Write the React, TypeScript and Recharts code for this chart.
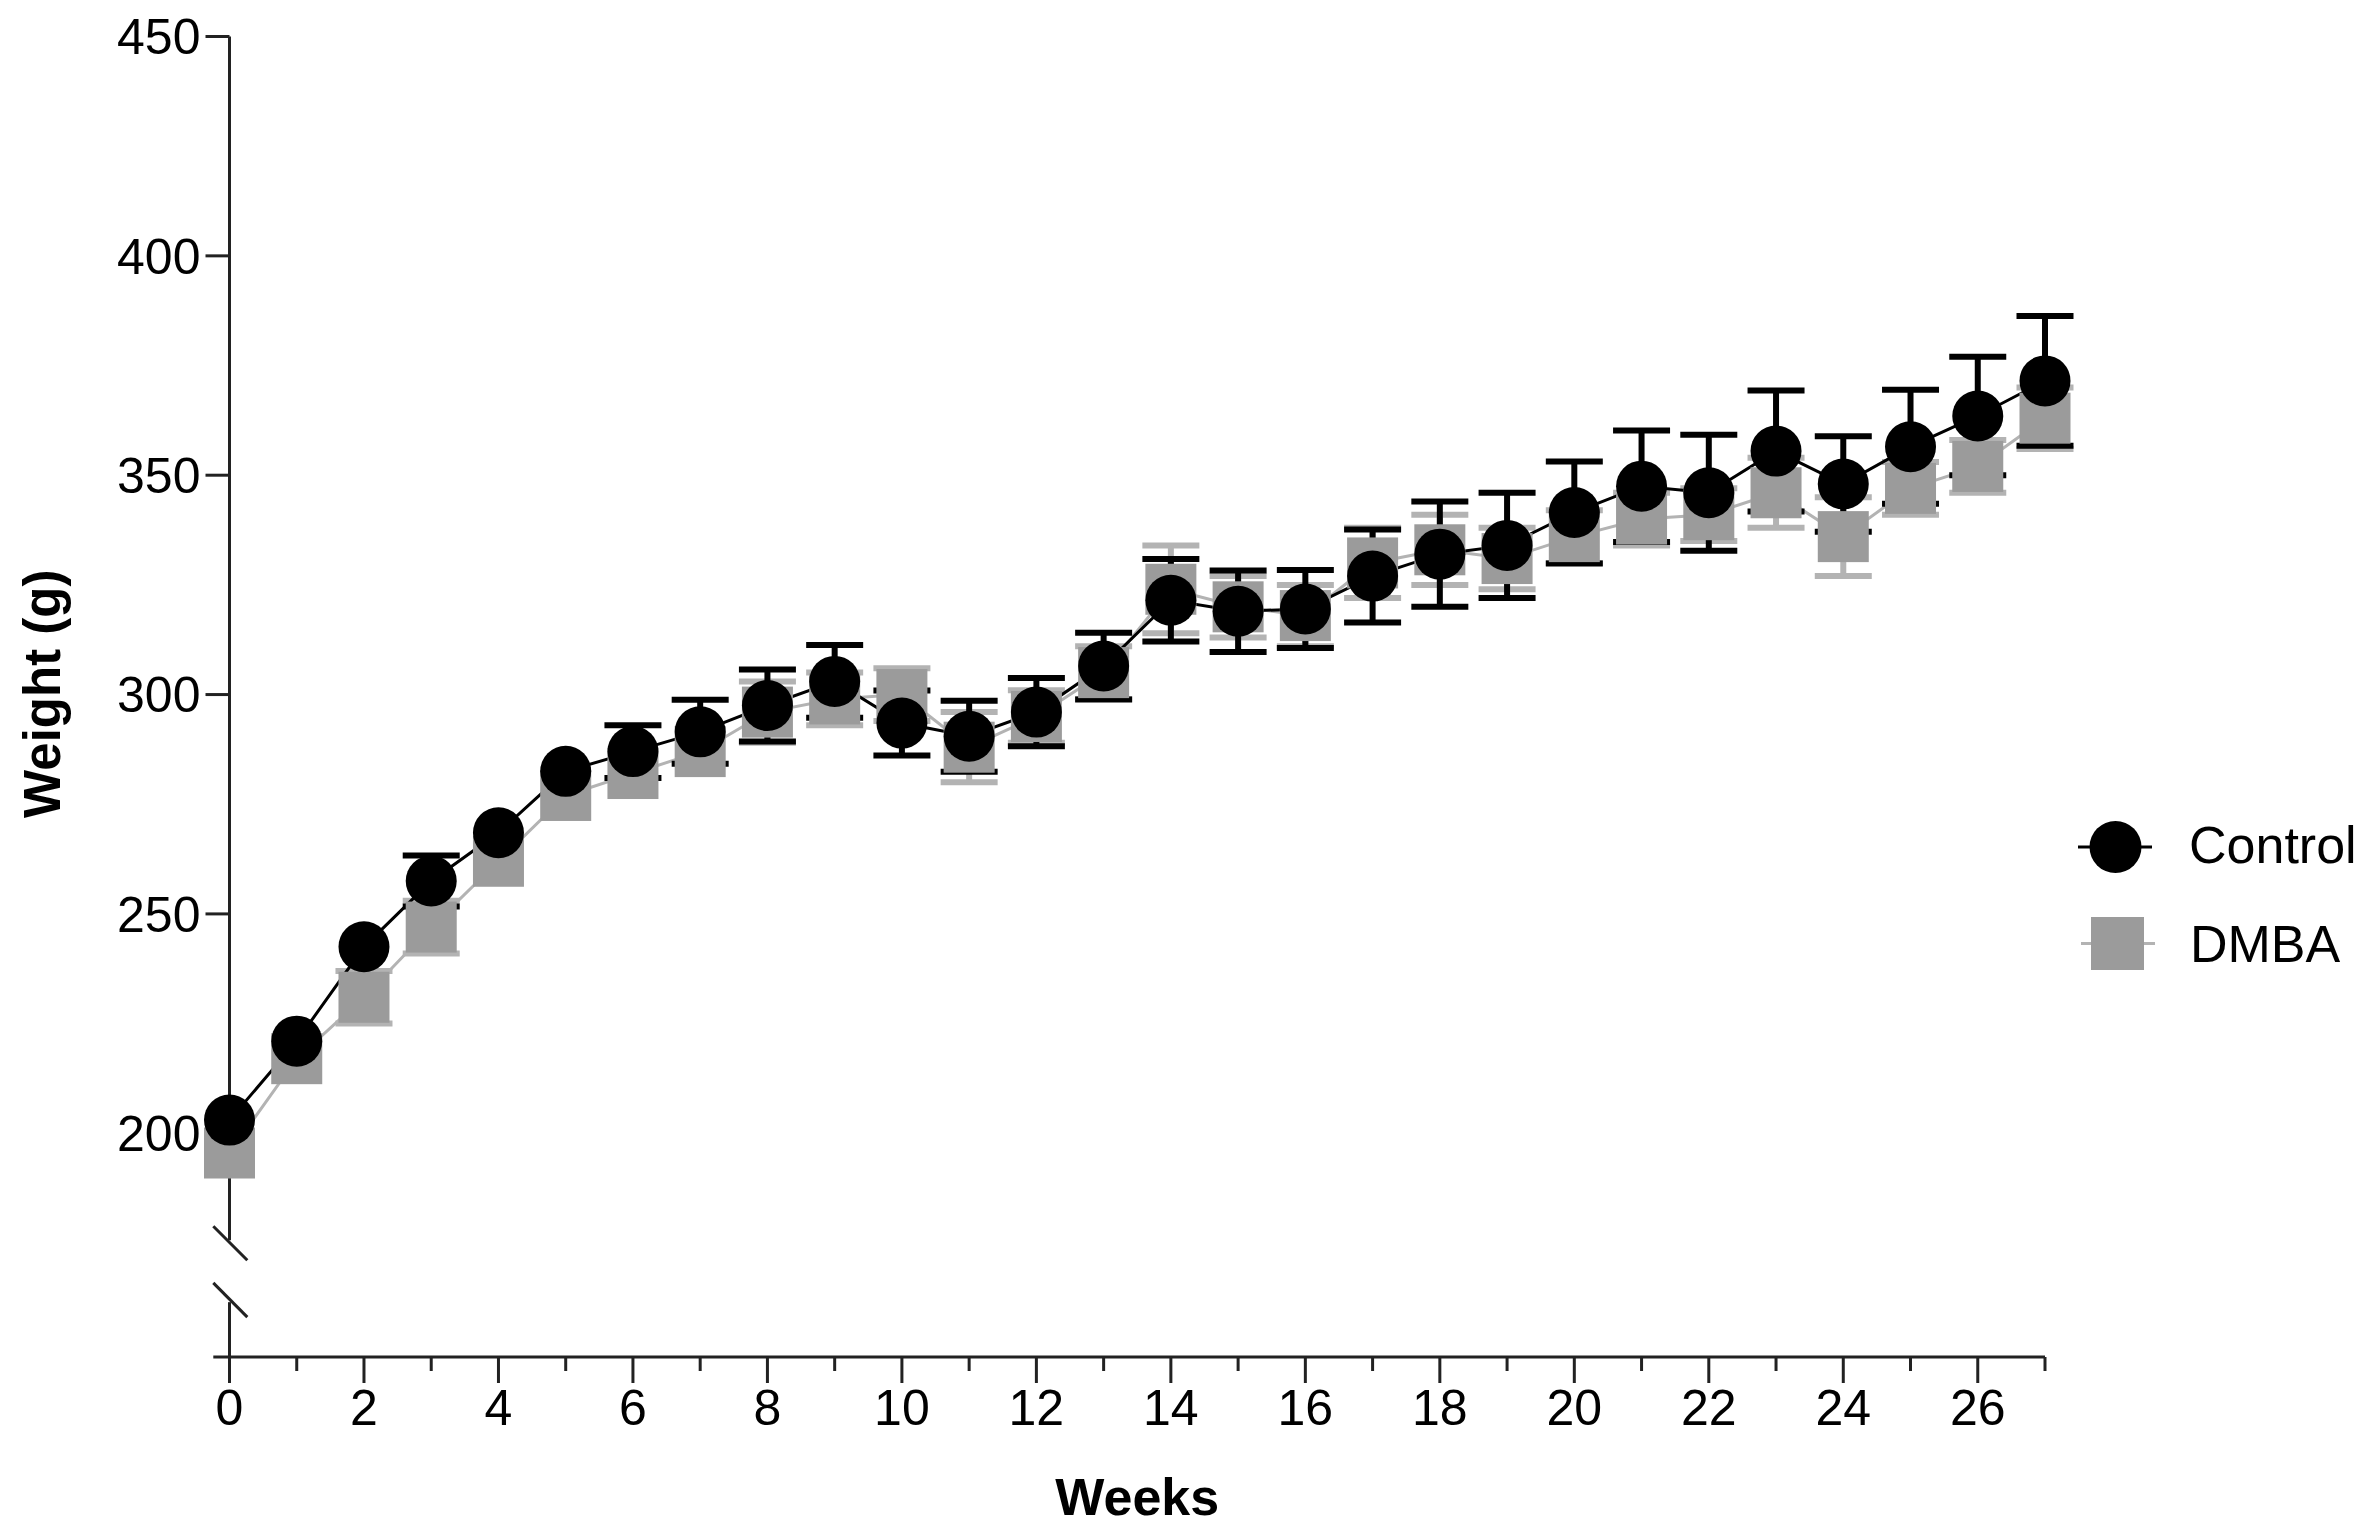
import React from 'react';
import { LineChart, Line, XAxis, YAxis, ErrorBar, ReferenceLine, Legend, Label } from 'recharts';

const weeks = [0, 1, 2, 3, 4, 5, 6, 7, 8, 9, 10, 11, 12, 13, 14, 15, 16, 17, 18, 19, 20, 21, 22, 23, 24, 25, 26, 27];
const majorWeeks = [0, 2, 4, 6, 8, 10, 12, 14, 16, 18, 20, 22, 24, 26];
const weightTicks = [200, 250, 300, 350, 400, 450];

// null = bar hidden inside the symbol in the original, so not drawn
const controlMean = [203, 221, 242.5, 257.5, 268.5, 282.5, 287, 291.5, 297.5, 303, 293.5, 290.5, 296, 306.5, 321.5, 319, 319.5, 327, 332, 334, 341.5, 347.5, 346, 355.5, 348, 356.5, 363.5, 371.5];
const controlSem = [null, null, null, 5.8, null, null, 6, 7.3, 8.2, 8.3, 7.4, 8.1, 7.8, 7.6, 9.4, 9.3, 8.9, 10.6, 12, 12, 11.6, 12.7, 13.2, 13.8, 10.9, 13, 13.5, 14.8];
const dmbaMean = [195.5, 217, 231, 247, 262, 277, 282, 287, 296, 299, 300, 288, 295, 305, 324, 320, 318, 330, 333, 331, 336, 340, 341, 346, 336, 347, 352, 363];
const dmbaSem = [null, null, 6, 6, null, null, null, null, 7, 6, 6, 8, 6, 6, 10, 7, 7, 8, 8, 7, 6, 6, 6, 8, 9, 6, 6, 7];

const rows = weeks.map((w, i) => ({
  week: w,
  control: controlMean[i],
  controlErr: controlSem[i],
  dmba: dmbaMean[i],
  dmbaErr: dmbaSem[i],
}));

const FONT = '"Liberation Sans", Arial, Helvetica, sans-serif';
const AXIS = '#222';
const GREY = '#9b9b9b';
const GREY_LINE = '#b3b3b3';

const WeekTick = (props: any) => {
  const { x, y, payload } = props;
  const major = majorWeeks.includes(payload.value);
  return (
    <g>
      <line x1={x} y1={y} x2={x} y2={y + (major ? 26 : 14)} stroke={AXIS} strokeWidth={3} />
      {major && (
        <text x={x} y={y + 68} textAnchor="middle" fontSize={50} fontFamily={FONT} fill="#000">
          {payload.value}
        </text>
      )}
    </g>
  );
};

const CircleDot = (props: any) => {
  const { cx, cy, index } = props;
  if (cx == null || cy == null) return null;
  return <circle key={`c-${index}`} cx={cx} cy={cy} r={25.5} fill="#000" />;
};

const SquareDot = (props: any) => {
  const { cx, cy, index } = props;
  if (cx == null || cy == null) return null;
  return <rect key={`s-${index}`} x={cx - 25.5} y={cy - 25.5} width={51} height={51} fill={GREY} />;
};

const renderLegend = () => (
  <svg width={300} height={180} style={{ overflow: 'visible' }}>
    <line x1={18} y1={47} x2={92} y2={47} stroke="#000" strokeWidth={3} />
    <circle cx={55.5} cy={47} r={26} fill="#000" />
    <text x={129} y={63} fontSize={52} fontFamily={FONT} fill="#000">Control</text>
    <line x1={21} y1={143.5} x2={95} y2={143.5} stroke={GREY_LINE} strokeWidth={3} />
    <rect x={31} y={117} width={53} height={53} fill={GREY} />
    <text x={130} y={161.5} fontSize={52} fontFamily={FONT} fill="#000">DMBA</text>
  </svg>
);

const App: React.FC = () => {
  return (
    <div style={{ position: 'absolute', left: 0, top: 0, background: '#fff' }}>
      <LineChart
        width={2368}
        height={1536}
        data={rows}
        margin={{ top: 36.5, right: 323, bottom: 0, left: 29.5 }}
        style={{ fontFamily: FONT }}
      >
        <XAxis
          dataKey="week"
          type="number"
          domain={[0, 27]}
          ticks={weeks}
          interval={0}
          axisLine={false}
          tickLine={false}
          tickSize={0}
          tickMargin={0}
          height={179}
          tick={<WeekTick />}
        >
          <Label
            content={(p: any) => {
              const vb = p.viewBox;
              return (
                <text x={vb.x + vb.width / 2} y={vb.y + 158} textAnchor="middle" fontSize={52} fontWeight="bold" fontFamily={FONT} fill="#000">
                  Weeks
                </text>
              );
            }}
          />
        </XAxis>
        <YAxis
          type="number"
          domain={[149, 450]}
          ticks={weightTicks}
          interval={0}
          width={200}
          axisLine={false}
          tickLine={{ stroke: AXIS, strokeWidth: 3 }}
          tickSize={24}
          tickMargin={5}
          tick={{ fontSize: 50, fill: '#000', fontFamily: FONT }}
        >
          <Label
            content={(p: any) => {
              const vb = p.viewBox;
              const cx = vb.x + 30.5;
              const cy = vb.y + vb.height / 2 - 3;
              return (
                <text x={cx} y={cy} transform={`rotate(-90, ${cx}, ${cy})`} textAnchor="middle" fontSize={51} fontWeight="bold" fontFamily={FONT} fill="#000">
                  Weight (g)
                </text>
              );
            }}
          />
        </YAxis>

        {/* axes drawn by hand so the y axis can carry its break */}
        <ReferenceLine segment={[{ x: -0.241, y: 149 }, { x: 27, y: 149 }]} stroke={AXIS} strokeWidth={3} ifOverflow="visible" />
        <ReferenceLine segment={[{ x: 0, y: 450 }, { x: 0, y: 175.6 }]} stroke={AXIS} strokeWidth={3} ifOverflow="visible" />
        <ReferenceLine segment={[{ x: 0, y: 161.5 }, { x: 0, y: 149 }]} stroke={AXIS} strokeWidth={3} ifOverflow="visible" />
        <ReferenceLine segment={[{ x: -0.241, y: 178.8 }, { x: 0.265, y: 171.05 }]} stroke={AXIS} strokeWidth={3} ifOverflow="visible" />
        <ReferenceLine segment={[{ x: -0.241, y: 165.9 }, { x: 0.265, y: 158.1 }]} stroke={AXIS} strokeWidth={3} ifOverflow="visible" />

        {/* stacking: grey bars < squares < black bars < circles */}
        <Line
          dataKey="dmba"
          name="DMBA"
          stroke={GREY_LINE}
          strokeWidth={3}
          dot={false}
          activeDot={false}
          isAnimationActive={false}
          zIndex={401}
        >
          <ErrorBar dataKey="dmbaErr" direction="y" width={28.5} strokeWidth={6} stroke={GREY_LINE} isAnimationActive={false} zIndex={402} />
        </Line>
        <Line
          dataKey="dmba"
          name="DMBA markers"
          legendType="none"
          stroke="none"
          dot={<SquareDot />}
          activeDot={false}
          isAnimationActive={false}
          zIndex={403}
        />
        <Line
          dataKey="control"
          name="Control"
          stroke="#000"
          strokeWidth={3}
          dot={false}
          activeDot={false}
          isAnimationActive={false}
          zIndex={404}
        >
          <ErrorBar dataKey="controlErr" direction="y" width={28.5} strokeWidth={6} stroke="#000" isAnimationActive={false} zIndex={405} />
        </Line>
        <Line
          dataKey="control"
          name="Control markers"
          legendType="none"
          stroke="none"
          dot={<CircleDot />}
          activeDot={false}
          isAnimationActive={false}
          zIndex={406}
        />

        <Legend
          layout="vertical"
          align="center"
          verticalAlign="middle"
          content={renderLegend}
          wrapperStyle={{ left: 2060, top: 800, width: 300, height: 180 }}
        />
      </LineChart>
    </div>
  );
};

export default App;
